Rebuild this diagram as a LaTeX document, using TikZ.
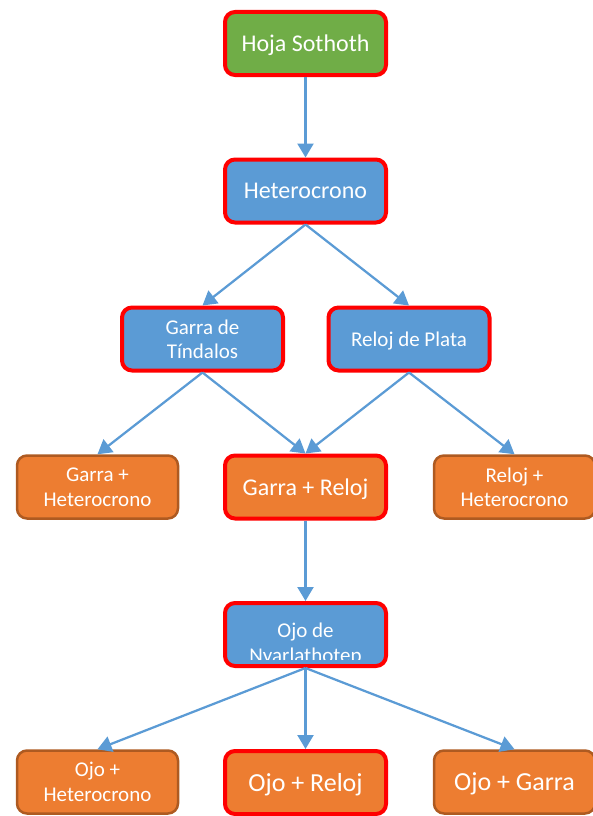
\documentclass[tikz,border=0pt]{standalone}
\usepackage{fontspec}
\setmainfont{Carlito}
\usetikzlibrary{positioning}
\usetikzlibrary{arrows.meta}

\begin{document}
\begin{tikzpicture}[x=1pt,y=-1pt]
    % Farben
    \definecolor{Box_green}{RGB}{112,173,71}
    \definecolor{Box_blue}{RGB}{91,155,213}
    \definecolor{Box_orange}{RGB}{237,125,49}
    \definecolor{Box_brown}{RGB}{174,90,33}

    \tikzset{
        block/.style={rectangle, rounded corners=10pt, minimum width=161pt, minimum height=63pt, text=white, text depth=0pt, align=center, font=\fontsize{21}{24.5}\selectfont},
        focus/.style={draw=red, line width=4pt},
        combo/.style={block, draw=Box_brown, line width=2.5pt, fill=Box_orange},
        big/.style={font=\fontsize{24}{29}\selectfont},
        huge/.style={font=\fontsize{26}{31}\selectfont},
        arrow/.style={-{Triangle[length=14pt,width=16pt]}, draw=Box_blue, line width=2.25pt}
    }

    \useasboundingbox (0,0) rectangle (592,816);

    % Startpunkt
    \node[block, focus, fill=Box_green, big] (hoja) at (305.5,43.5) {Hoja Sothoth};
    \node[block, focus, fill=Box_blue, big] (hetero) at (305.5,191) {Heterocrono};

    % Zweite Ebene
    \node[block, focus, fill=Box_blue] (garra) at (202.5,339) {Garra de\\Tíndalos};
    \node[block, focus, fill=Box_blue] (reloj) at (409,339) {Reloj de Plata};

    % Kombinationen
    \node[combo] (garrahet) at (97.5,487) {Garra +\\Heterocrono};
    \node[block, focus, fill=Box_orange, big] (garrareloj) at (305.5,487) {Garra + Reloj};
    \node[combo] (relojhet) at (514.5,487) {Reloj +\\Heterocrono};

    % Ojo (Text abgeschnitten)
    \node[block, focus, fill=Box_blue] (ojo) at (305.5,634.5) {};
    \begin{scope}
        \clip (227,605) rectangle (384,659);
        \node[text=white, align=center, font=\fontsize{21}{25}\selectfont] (ojotext) at (305.5,644) {Ojo de\\Nyarlathotep};
    \end{scope}

    % Letzte Ebene
    \node[combo] (ojohet) at (97.5,782) {Ojo +\\Heterocrono};
    \node[block, focus, fill=Box_orange, huge] (ojoreloj) at (305.5,782.5) {Ojo + Reloj};
    \node[combo, huge] (ojogarra) at (514.5,782) {Ojo + Garra};

    % Verbindungen
    \draw[arrow] (hoja.south) -- (hetero.north);
    \draw[arrow] (hetero.south) -- (garra.north);
    \draw[arrow] (hetero.south) -- (reloj.north);
    \draw[arrow] (garra.south) -- (garrahet.north);
    \draw[arrow] (garra.south) -- (garrareloj.north);
    \draw[arrow] (reloj.south) -- (garrareloj.north);
    \draw[arrow] (reloj.south) -- (relojhet.north);
    \draw[arrow] (garrareloj.south) -- (ojo.north);
    \draw[arrow] (ojo.south) -- (ojohet.north);
    \draw[arrow] (ojo.south) -- (ojoreloj.north);
    \draw[arrow] (ojo.south) -- (ojogarra.north);
\end{tikzpicture}
\end{document}
